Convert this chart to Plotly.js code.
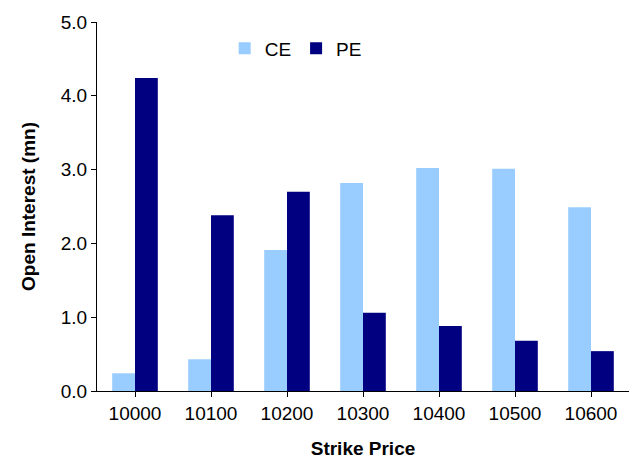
<!DOCTYPE html>
<html><head><script src="https://cdn.plot.ly/plotly-3.0.1.min.js"></script></head>
<body style="margin:0"><div id="c" style="width:629px;height:461px"></div>
<script>
const strikes = ['10000','10100','10200','10300','10400','10500','10600'];
const ce = [0.24,0.43,1.91,2.82,3.02,3.01,2.49];
const pe = [4.24,2.38,2.70,1.06,0.88,0.68,0.54];
const f = {family:'Liberation Sans, Arial', size:19, color:'#000'};
Plotly.newPlot('c',[
 {type:'bar',name:'CE',x:strikes,y:ce,marker:{color:'#99CCFF'}},
 {type:'bar',name:'PE',x:strikes,y:pe,marker:{color:'#000080'}}
],{
 width:629,height:461,margin:{l:97,r:0,t:22,b:70},
 font:f,barmode:'group',bargap:0.4,bargroupgap:0,
 showlegend:true,legend:{orientation:'h',x:0.24,y:0.98,xanchor:'left',yanchor:'top',font:f},
 xaxis:{type:'category',showline:true,linecolor:'#000',ticks:'outside',ticklen:5,tickcolor:'#000',
   title:{text:'<b>Strike Price</b>',font:f,standoff:18}},
 yaxis:{range:[0,5],dtick:1,tickformat:'.1f',showline:true,linecolor:'#000',ticks:'outside',ticklen:5,tickcolor:'#000',showgrid:false,zeroline:false,
   title:{text:'<b>Open Interest (mn)</b>',font:f,standoff:20}},
 plot_bgcolor:'#fff',paper_bgcolor:'#fff'
},{displayModeBar:false});
</script></body></html>
